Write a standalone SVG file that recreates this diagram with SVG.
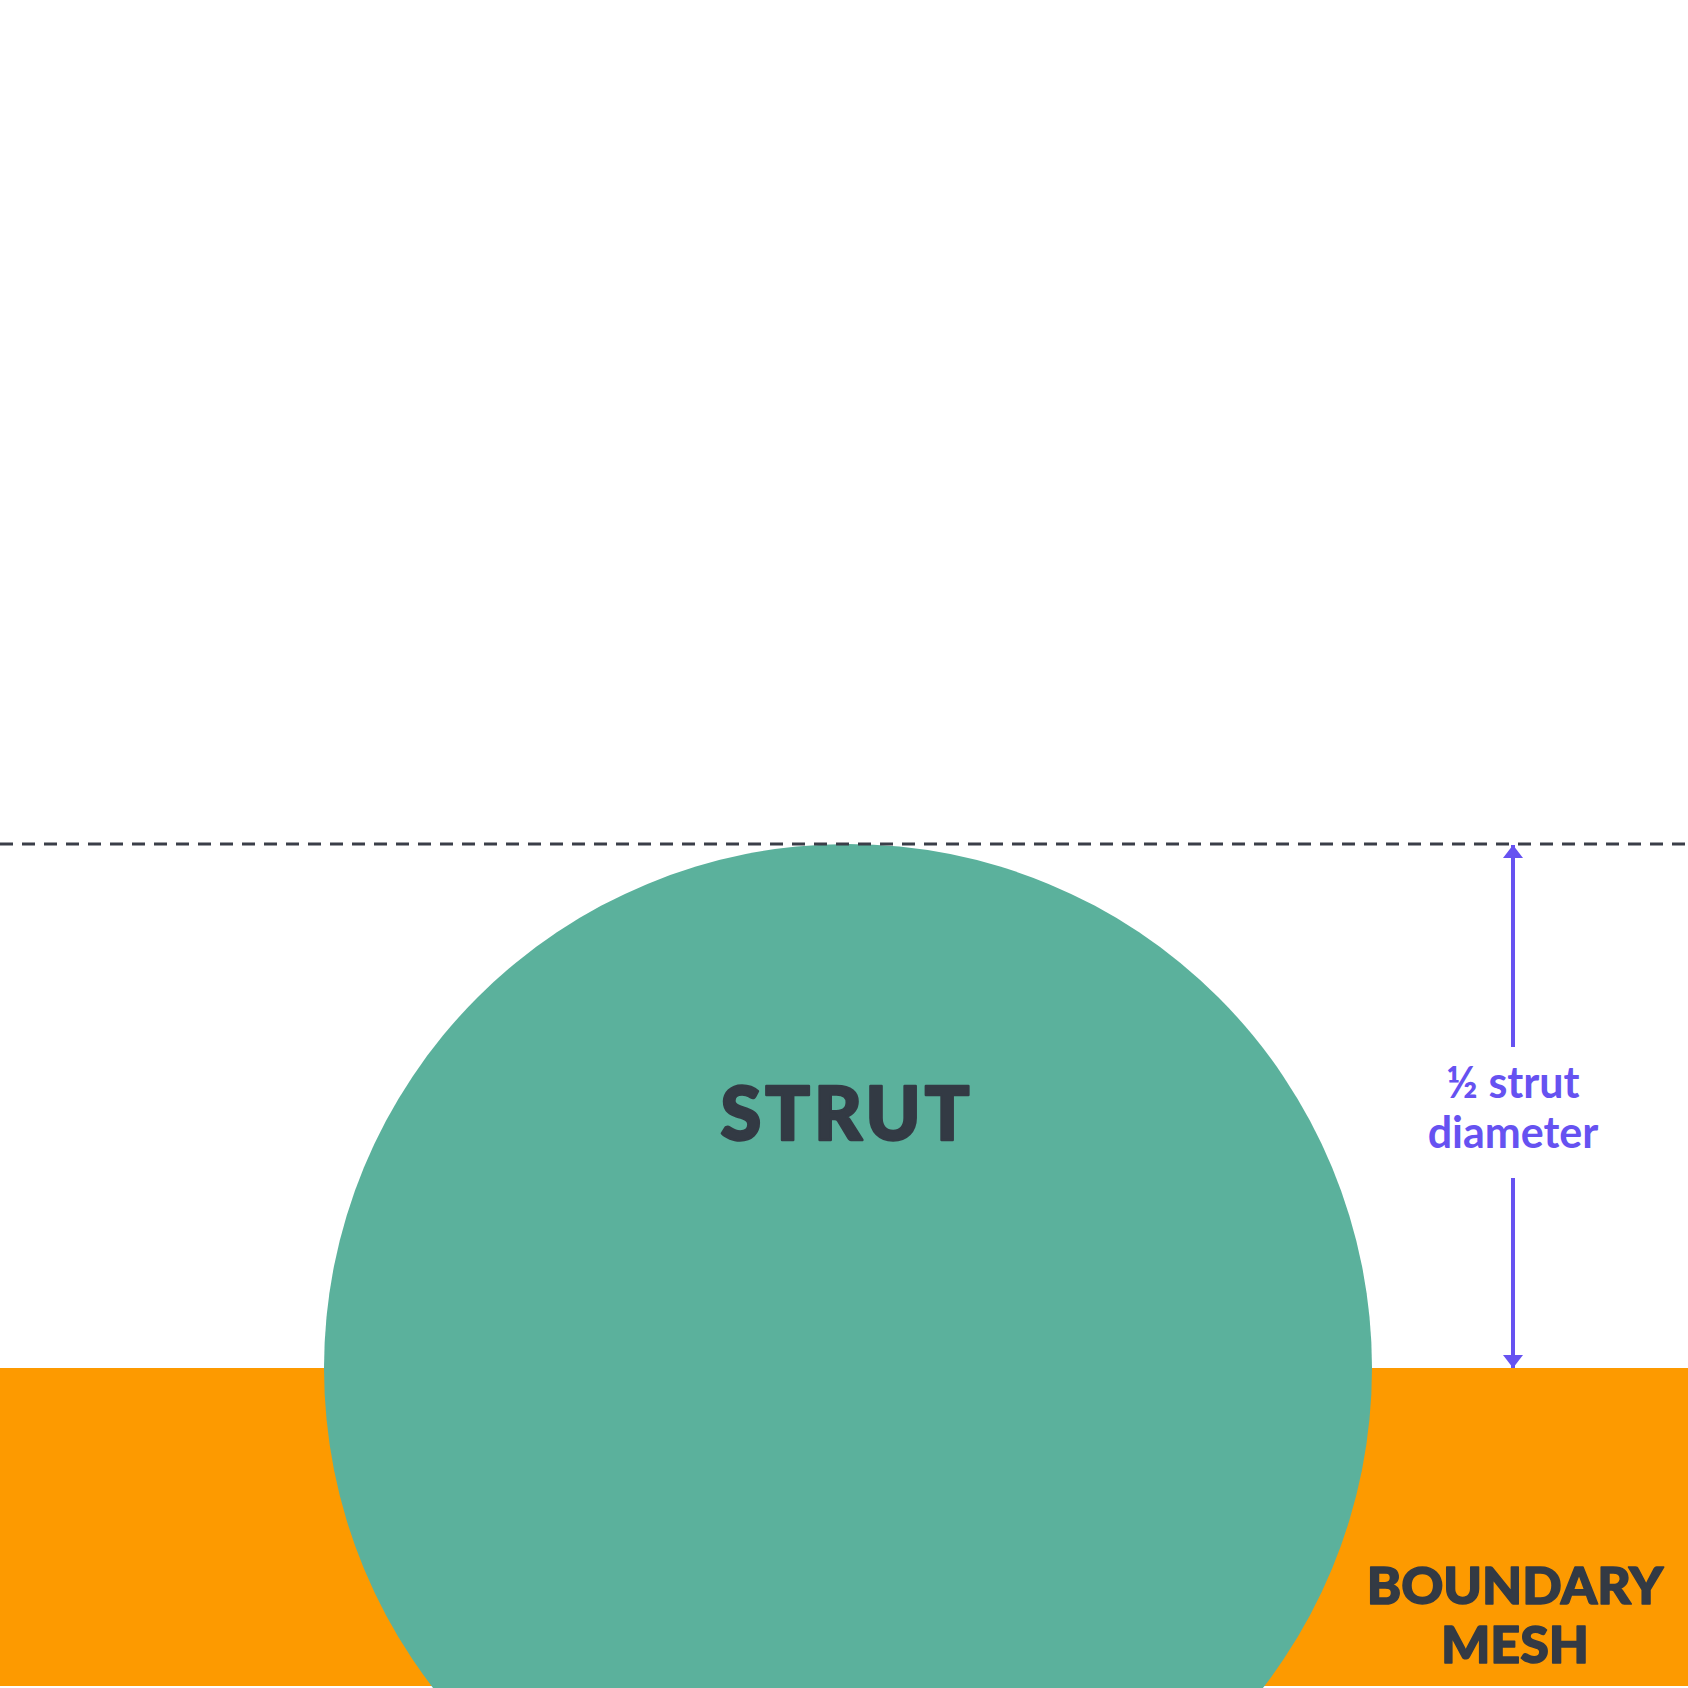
<svg xmlns="http://www.w3.org/2000/svg" width="1688" height="1688" viewBox="0 0 1688 1688">
<defs>
<style>
.lbl{font-family:Lato,"Open Sans","DejaVu Sans",sans-serif;font-weight:900;fill:#333a44;stroke:#333a44;stroke-linejoin:round;text-anchor:middle}
.dim{font-family:Lato,"Open Sans","DejaVu Sans",sans-serif;font-weight:700;fill:#6652f1;text-anchor:middle;font-size:43px}
.arr{stroke:#6652f1;stroke-width:4;fill:none}
</style>
<marker id="ah" viewBox="0 0 13 20" refX="13" refY="10" markerWidth="13" markerHeight="20" markerUnits="userSpaceOnUse" orient="auto">
<path d="M0,0 L13,10 L0,20 Z" fill="#6652f1"/>
</marker>
</defs>
<rect width="1688" height="1688" fill="#ffffff"/>
<g id="boundary-mesh">
<rect x="0" y="1368" width="1688" height="318" fill="#fd9a00"/>
<text class="lbl" x="1515" y="1604" font-size="52" stroke-width="1.5">BOUNDARY</text>
<text class="lbl" x="1515" y="1663" font-size="52" stroke-width="1.5">MESH</text>
</g>
<g id="strut">
<circle cx="848" cy="1368" r="524" fill="#5bb19c"/>
<text class="lbl" x="847" y="1140" font-size="74" stroke-width="2.5" letter-spacing="4">STRUT</text>
</g>
<g id="top-line">
<line x1="0" y1="844" x2="1688" y2="844" stroke="#3a3e48" stroke-width="3" stroke-dasharray="13 9"/>
</g>
<g id="connectors">
<line class="arr" x1="1513" y1="1047" x2="1513" y2="845" marker-end="url(#ah)"/>
<line class="arr" x1="1513" y1="1178" x2="1513" y2="1368" marker-end="url(#ah)"/>
</g>
<g id="dimension-label">
<text class="dim" x="1513" y="1098">½ strut</text>
<text class="dim" x="1513" y="1148">diameter</text>
</g>
</svg>
